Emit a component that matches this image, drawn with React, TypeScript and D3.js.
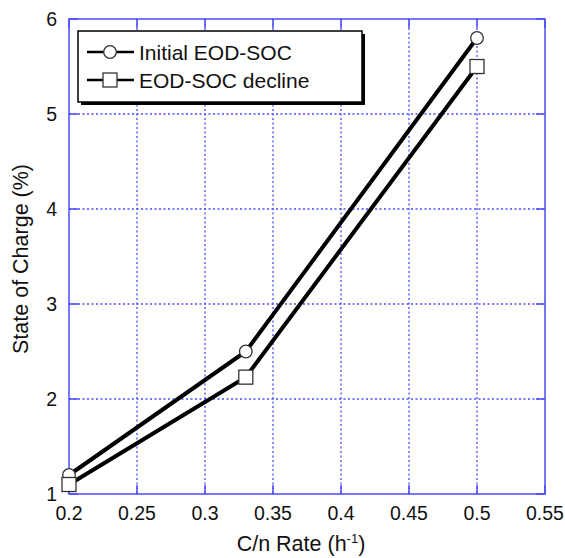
import React from "react";
import * as d3 from "d3";

const rates = [0.2, 0.33, 0.5];
const initialSOC = [1.2, 2.5, 5.8];
const declineSOC = [1.1, 2.23, 5.5];
const xTicks = [0.2, 0.25, 0.3, 0.35, 0.4, 0.45, 0.5, 0.55];
const yTicks = [1, 2, 3, 4, 5, 6];
const legendLabels = ["Initial EOD-SOC", "EOD-SOC decline"];

const W = 565, H = 558;
const L = 69, R = 545, T = 19, B = 494;
const AX = "#4b4bff";
const FONT = "Liberation Sans, Arial, sans-serif";

export default function App() {
  const x = d3.scaleLinear().domain([0.2, 0.55]).range([L, R]);
  const y = d3.scaleLinear().domain([1, 6]).range([B, T]);
  const line = d3.line<[number, number]>().x(d => x(d[0])).y(d => y(d[1]));
  const s1 = rates.map((r, i) => [r, initialSOC[i]] as [number, number]);
  const s2 = rates.map((r, i) => [r, declineSOC[i]] as [number, number]);
  const tk = 9;
  return (
    <svg width={W} height={H} style={{ position: "absolute", left: 0, top: 0, background: "#fff" }} fontFamily={FONT}>
      {/* grid */}
      {xTicks.slice(1, -1).map(t => (
        <line key={"gx" + t} x1={x(t)} x2={x(t)} y1={T} y2={B} stroke={AX} strokeWidth={1.3} strokeDasharray="2,2.5" />
      ))}
      {yTicks.slice(1, -1).map(t => (
        <line key={"gy" + t} x1={L} x2={R} y1={y(t)} y2={y(t)} stroke={AX} strokeWidth={1.3} strokeDasharray="2,2.5" />
      ))}
      {/* ticks */}
      {xTicks.map(t => (
        <g key={"tx" + t}>
          <line x1={x(t)} x2={x(t)} y1={B} y2={B - tk} stroke={AX} strokeWidth={1.5} />
          <line x1={x(t)} x2={x(t)} y1={T} y2={T + tk} stroke={AX} strokeWidth={1.5} />
          <text x={x(t)} y={520} textAnchor="middle" fontSize={19.5} fill="#111">{String(t)}</text>
        </g>
      ))}
      {yTicks.map(t => (
        <g key={"ty" + t}>
          <line x1={L} x2={L + tk} y1={y(t)} y2={y(t)} stroke={AX} strokeWidth={1.5} />
          <line x1={R} x2={R - tk} y1={y(t)} y2={y(t)} stroke={AX} strokeWidth={1.5} />
          <text x={57} y={y(t) + 7} textAnchor="end" fontSize={19.5} fill="#111">{String(t)}</text>
        </g>
      ))}
      <rect x={L} y={T} width={R - L} height={B - T} fill="none" stroke={AX} strokeWidth={1.5} />
      {/* axis titles */}
      <text transform={`translate(28,${259}) rotate(-90)`} textAnchor="middle" fontSize={21.5} fill="#111">State of Charge (%)</text>
      <text x={301} y={551} textAnchor="middle" fontSize={21.5} fill="#111">
        C/n Rate (h<tspan dy={-8} fontSize={13}>-1</tspan><tspan dy={8}>)</tspan>
      </text>
      {/* lines */}
      <path d={line(s1) || ""} fill="none" stroke="#000" strokeWidth={4} />
      <path d={line(s2) || ""} fill="none" stroke="#000" strokeWidth={4} />
      {s1.map((d, i) => (
        <circle key={"c" + i} cx={x(d[0])} cy={y(d[1])} r={6.3} fill="#fff" stroke="#333" strokeWidth={1.3} />
      ))}
      {s2.map((d, i) => (
        <rect key={"s" + i} x={x(d[0]) - 7} y={y(d[1]) - 7} width={14} height={14} fill="#fff" stroke="#333" strokeWidth={1.3} />
      ))}
      {/* legend */}
      <rect x={81} y={34} width={284} height={71} fill="#000" />
      <rect x={78} y={31} width={284} height={71} fill="#fff" stroke="#000" strokeWidth={1.5} />
      {legendLabels.map((lab, i) => {
        const ly = 52 + i * 28;
        return (
          <g key={lab}>
            <line x1={87} x2={134} y1={ly} y2={ly} stroke="#000" strokeWidth={2.5} />
            {i === 0 ? (
              <circle cx={110} cy={ly} r={6.3} fill="#fff" stroke="#333" strokeWidth={1.3} />
            ) : (
              <rect x={103} y={ly - 7} width={14} height={14} fill="#fff" stroke="#333" strokeWidth={1.3} />
            )}
            <text x={139} y={ly + 7.5} fontSize={21} fill="#111">{lab}</text>
          </g>
        );
      })}
    </svg>
  );
}
